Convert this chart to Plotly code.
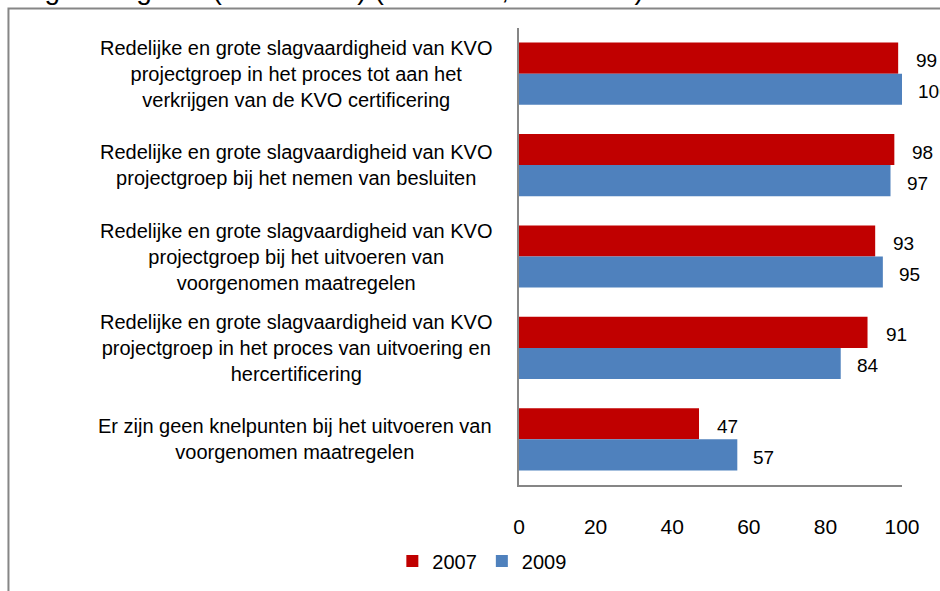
import plotly.graph_objects as go

categories = [
    "Redelijke en grote slagvaardigheid van KVO<br>projectgroep in het proces tot aan het<br>verkrijgen van de KVO certificering",
    "Redelijke en grote slagvaardigheid van KVO<br>projectgroep bij het nemen van besluiten",
    "Redelijke en grote slagvaardigheid van KVO<br>projectgroep bij het uitvoeren van<br>voorgenomen maatregelen",
    "Redelijke en grote slagvaardigheid van KVO<br>projectgroep in het proces van uitvoering en<br>hercertificering",
    "Er zijn geen knelpunten bij het uitvoeren van<br>voorgenomen maatregelen",
]
values_2007 = [99, 98, 93, 91, 47]
values_2009 = [100, 97, 95, 84, 57]
series_names = ["2007", "2009"]
x_ticks = [0, 20, 40, 60, 80, 100]
title_text = "Slagvaardigheid (uitkomsten) (2007 n=.., 2009 n=..)"

FONT = "Liberation Sans, Arial, sans-serif"
RED = "#C00000"
BLUE = "#4F81BD"
GRAY = "#868686"

ycats = [f"c{i}" for i in range(len(categories))]

fig = go.Figure()
fig.add_trace(go.Bar(y=ycats, x=values_2007, name=series_names[0], orientation="h",
                     marker=dict(color=RED, line=dict(width=0))))
fig.add_trace(go.Bar(y=ycats, x=values_2009, name=series_names[1], orientation="h",
                     marker=dict(color=BLUE, line=dict(width=0))))

annotations = []
# category labels (centered multi-line, right-anchored)
for yc, lab in zip(ycats, categories):
    annotations.append(dict(x=0, xref="paper", y=yc, yref="y", text=lab,
                            xanchor="right", yanchor="middle", align="center",
                            xshift=-25, showarrow=False,
                            font=dict(family=FONT, size=20, color="#000000")))
# data labels
for yc, v in zip(ycats, values_2007):
    annotations.append(dict(x=v, y=yc, xref="x", yref="y", text=str(v),
                            xanchor="left", yanchor="middle", xshift=16, yshift=13,
                            showarrow=False, font=dict(family=FONT, size=19, color="#000000")))
for yc, v in zip(ycats, values_2009):
    annotations.append(dict(x=v, y=yc, xref="x", yref="y", text=str(v),
                            xanchor="left", yanchor="middle", xshift=14, yshift=-18,
                            showarrow=False, font=dict(family=FONT, size=19, color="#000000")))
# cut-off title at very top
annotations.append(dict(x=-1.35, xref="paper", y=1.085, yref="paper", text=title_text,
                        xanchor="left", yanchor="middle", showarrow=False,
                        font=dict(family=FONT, size=28, color="#000000")))

fig.update_layout(
    width=940, height=591,
    margin=dict(l=519, r=38, t=28, b=105, pad=0),
    paper_bgcolor="white", plot_bgcolor="white",
    barmode="group", bargap=0.32, bargroupgap=0,
    font=dict(family=FONT, color="#000000"),
    showlegend=True,
    legend=dict(orientation="h", x=-0.097, xanchor="center", y=-0.164, yanchor="middle",
                font=dict(family=FONT, size=20), itemwidth=30, traceorder="normal",
                bgcolor="rgba(0,0,0,0)"),
    annotations=annotations,
    shapes=[dict(type="rect", xref="paper", yref="paper", x0=-1.333, x1=1.2, y0=-0.3, y1=1.0426,
                 line=dict(color=GRAY, width=2), fillcolor="rgba(0,0,0,0)", layer="below")],
)
fig.update_xaxes(range=[0, 100], tickvals=x_ticks, showgrid=False, zeroline=False,
                 showline=True, linecolor=GRAY, linewidth=2, ticks="",
                 ticklabelstandoff=22,
                 tickfont=dict(family=FONT, size=21, color="#000000"))
fig.update_yaxes(categoryorder="array", categoryarray=ycats, autorange="reversed",
                 showticklabels=False, showgrid=False, zeroline=False,
                 showline=True, linecolor=GRAY, linewidth=2, ticks="")

fig.write_html("out.html", config={"displayModeBar": False},
               post_script="document.body.style.margin='0';")
